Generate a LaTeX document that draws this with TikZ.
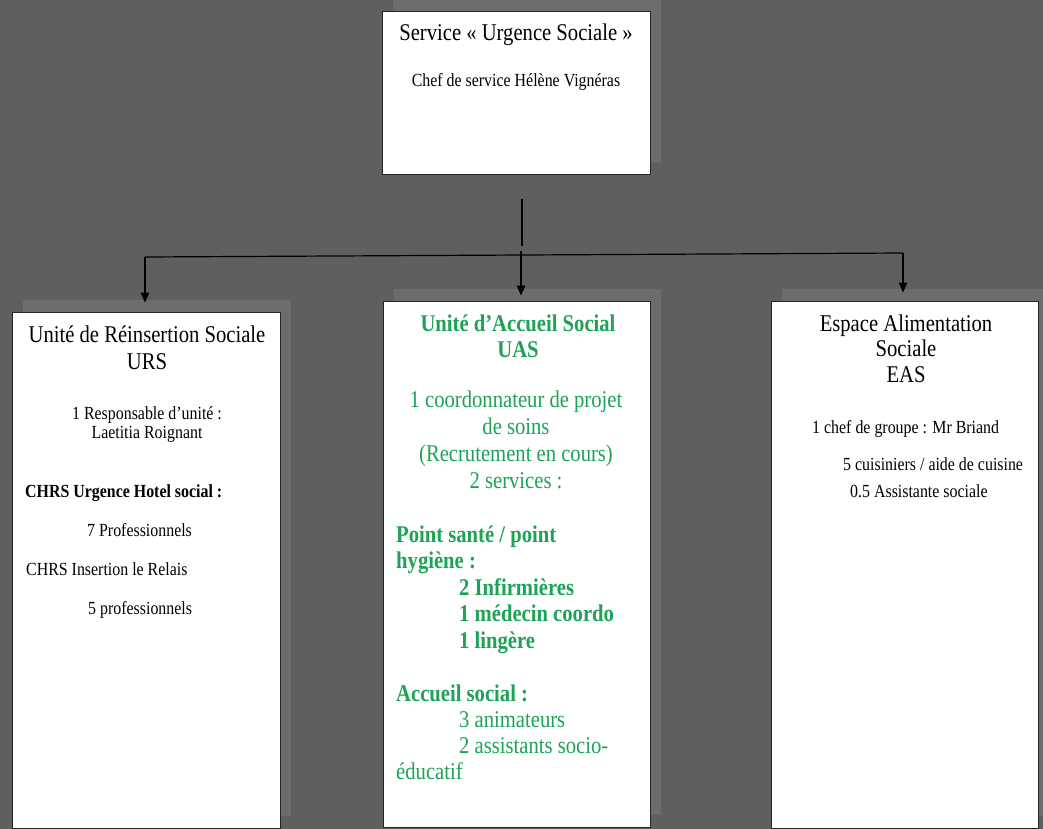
\documentclass[tikz,border=0pt]{standalone}
\usepackage{fontspec}
\setmainfont{Liberation Serif}[FakeStretch=0.86]
\usepackage{tikz}
\usetikzlibrary{arrows.meta}
\usetikzlibrary{shadows}
\definecolor{bg}{HTML}{5F5F5F}
\definecolor{shade}{HTML}{6C6C6C}
\definecolor{frame}{HTML}{262626}
\definecolor{uasgreen}{RGB}{28,163,86}

\begin{document}
\begin{tikzpicture}[x=1pt,y=-1pt,
    box/.style={draw=frame, fill=white, line width=1pt, inner sep=0pt,
      general shadow={fill=shade, shadow xshift=11pt, shadow yshift=12pt}},
    big/.style={font=\fontsize{24}{26.5}\selectfont, inner sep=0pt},
    small/.style={font=\fontsize{18.5}{18.5}\selectfont, inner sep=0pt},
    arr/.style={line width=1.2pt, -{Triangle[width=8.5pt,length=10pt]}}]
    \fill[bg] (0,0) rectangle (1043,829);
    \useasboundingbox (0,0) rectangle (1043,829);
    % boxes
    \node[box, minimum width=268pt, minimum height=163pt] (service) at (516,93.5) {};
    \node[box, minimum width=268pt, minimum height=516pt] (urs) at (146,570) {};
    \node[box, minimum width=267pt, minimum height=526pt] (uas) at (516.5,564) {};
    \node[box, minimum width=267pt, minimum height=527pt] (eas) at (904.5,564.5) {};
    % connectors
    \coordinate (stem) at (522,199);
    \coordinate (hub) at (522,246);
    \coordinate (jl) at (145,257);
    \coordinate (jm) at (521,255);
    \coordinate (jr) at (903,253);
    \draw[line width=1.2pt] (stem) -- (hub);
    \draw[line width=1.2pt] (jl) -- (jr);
    \draw[arr, shorten >=9pt] (jl) -- (jl |- urs.north);
    \draw[arr, shorten >=5pt] ([yshift=4pt]jm) -- (jm |- uas.north);
    \draw[arr, shorten >=8pt] (jr) -- (jr |- eas.north);
    % service
    \node[big, anchor=base] (s_title) at (516,41) {Service « Urgence Sociale »};
    \node[small, anchor=base] (s_chef) at (516,87) {Chef de service Hélène Vignéras};
    % URS (anchor base = last line)
    \node[big, anchor=base, align=center] (urs_title) at (147,369) {Unité de Réinsertion Sociale\\URS};
    \node[small, anchor=base, align=center] (urs_resp) at (147,438) {1 Responsable d’unité :\\Laetitia Roignant};
    \node[small, anchor=base west, font=\fontsize{18.5}{18.5}\selectfont\bfseries] (urs_chrs1) at (25,497) {CHRS Urgence Hotel social :};
    \node[small, anchor=base west] (urs_n7) at (87,536) {7 Professionnels};
    \node[small, anchor=base west] (urs_chrs2) at (26,575) {CHRS Insertion le Relais};
    \node[small, anchor=base west] (urs_n5) at (88,614) {5 professionnels};
    % UAS
    \node[big, anchor=base, align=center, text=uasgreen, font=\fontsize{24}{26}\selectfont\bfseries] (uas_title) at (518,357) {Unité d’Accueil Social\\UAS};
    \node[big, anchor=base, align=center, text=uasgreen, font=\fontsize{24}{27}\selectfont] (uas_coord) at (516,488) {1 coordonnateur de projet\\de soins\\(Recrutement en cours)\\2 services :};
    \node[big, anchor=base west, align=left, text=uasgreen, font=\fontsize{24}{26.5}\selectfont\bfseries] (uas_sante) at (396,648) {Point santé / point\\hygiène :\\\hspace*{63pt}2 Infirmières\\\hspace*{63pt}1 médecin coordo\\\hspace*{63pt}1 lingère};
    \node[big, anchor=base west, align=left, text=uasgreen, font=\fontsize{24}{25.7}\selectfont] (uas_accueil) at (396,779) {\textbf{Accueil social :}\\\hspace*{63pt}3 animateurs\\\hspace*{63pt}2 assistants socio-\\éducatif};
    % EAS
    \node[big, anchor=base, align=center, font=\fontsize{24}{25.5}\selectfont] (eas_title) at (906,382) {Espace Alimentation\\Sociale\\EAS};
    \node[small, anchor=base west] (eas_chef) at (812,433) {1 chef de groupe : Mr Briand};
    \node[small, anchor=base west] (eas_cuis) at (843,470) {5 cuisiniers / aide de cuisine};
    \node[small, anchor=base west] (eas_as) at (850,497) {0.5 Assistante sociale};
\end{tikzpicture}
\end{document}
